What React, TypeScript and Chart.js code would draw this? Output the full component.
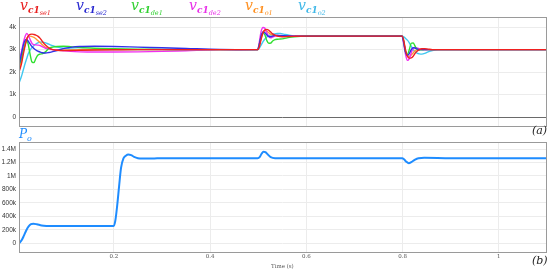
import React, { useEffect, useRef } from "react";
import { Chart, registerables } from "chart.js";
Chart.register(...registerables);

// ---------- data ----------
const tV = [0.003, 0.008, 0.012, 0.016, 0.019, 0.022, 0.026, 0.03, 0.034, 0.038, 0.042, 0.047, 0.052, 0.058, 0.065, 0.073, 0.082, 0.095, 0.11, 0.13, 0.16, 0.2, 0.25, 0.3, 0.35, 0.42, 0.499,
  0.502, 0.506, 0.51, 0.514, 0.518, 0.522, 0.526, 0.53, 0.535, 0.54, 0.546, 0.553, 0.562, 0.575, 0.6, 0.65, 0.799,
  0.802, 0.806, 0.81, 0.814, 0.818, 0.822, 0.826, 0.83, 0.835, 0.84, 0.846, 0.853, 0.862, 0.875, 0.9, 1.098];

const vSe1 = [2000, 2350, 2800, 3200, 3450, 3600, 3680, 3690, 3670, 3640, 3600, 3500, 3350, 3200, 3080, 3000, 2970, 2960, 2960, 2970, 2980, 2990, 3000, 3000, 3000, 3000, 3000,
  3100, 3450, 3750, 3880, 3900, 3860, 3780, 3700, 3640, 3600, 3580, 3570, 3580, 3590, 3600, 3600, 3600,
  3450, 3000, 2700, 2620, 2630, 2700, 2830, 2930, 3000, 3040, 3040, 3020, 3000, 3000, 3000, 3000];
const vSe2 = [2300, 2800, 3200, 3420, 3450, 3380, 3250, 3130, 3050, 2980, 2930, 2890, 2860, 2850, 2870, 2910, 2960, 3040, 3100, 3140, 3150, 3140, 3110, 3080, 3050, 3010, 3000,
  3200, 3600, 3780, 3750, 3650, 3580, 3570, 3600, 3630, 3640, 3630, 3620, 3610, 3600, 3600, 3600, 3600,
  3350, 2900, 2750, 2820, 3000, 3080, 3070, 3030, 3000, 3000, 3000, 3000, 3000, 3000, 3000, 3000];
const vDe1 = [2300, 2600, 2950, 3250, 3400, 3250, 2800, 2450, 2420, 2600, 2750, 2800, 2820, 2900, 3050, 3110, 3140, 3150, 3130, 3090, 3060, 3040, 3020, 3010, 3000, 3000, 3000,
  3200, 3550, 3750, 3650, 3400, 3280, 3290, 3380, 3440, 3460, 3470, 3490, 3530, 3570, 3600, 3600, 3600,
  3400, 2900, 2780, 3000, 3280, 3300, 3150, 3020, 2980, 2990, 3000, 3000, 3000, 3000, 3000, 3000];
const vDe2 = [2460, 2900, 3300, 3600, 3720, 3650, 3450, 3280, 3220, 3210, 3200, 3180, 3120, 3060, 3020, 3000, 2980, 2950, 2920, 2900, 2890, 2890, 2900, 2920, 2950, 2990, 3000,
  3300, 3800, 3980, 3950, 3750, 3580, 3520, 3550, 3600, 3620, 3620, 3610, 3600, 3600, 3600, 3600, 3600,
  3300, 2800, 2520, 2600, 2850, 3050, 3100, 3080, 3030, 3000, 2990, 3000, 3000, 3000, 3000, 3000];
const vO1 = [2100, 2500, 2950, 3300, 3500, 3580, 3600, 3580, 3540, 3480, 3400, 3300, 3200, 3100, 3040, 3000, 2980, 2970, 2980, 2990, 3000, 3000, 3000, 3000, 3000, 3000, 3000,
  3150, 3500, 3780, 3850, 3820, 3750, 3680, 3640, 3610, 3600, 3590, 3590, 3600, 3600, 3600, 3600, 3600,
  3400, 2950, 2720, 2700, 2760, 2850, 2950, 3000, 3020, 3020, 3010, 3000, 3000, 3000, 3000, 3000];
const vO2 = [1500, 1800, 2100, 2400, 2600, 2800, 2980, 3100, 3180, 3250, 3300, 3330, 3330, 3300, 3240, 3170, 3110, 3060, 3030, 3010, 3000, 3000, 3000, 3000, 3000, 3000, 3000,
  3050, 3200, 3350, 3470, 3560, 3620, 3650, 3680, 3700, 3720, 3720, 3690, 3650, 3610, 3600, 3600, 3600,
  3580, 3500, 3420, 3300, 3150, 3000, 2900, 2840, 2810, 2800, 2830, 2900, 2960, 3000, 3000, 3000];

const tP = [0.003, 0.008, 0.013, 0.018, 0.023, 0.028, 0.033, 0.04, 0.05, 0.06, 0.08, 0.1, 0.15, 0.199, 0.203, 0.207, 0.211, 0.215, 0.22, 0.225, 0.23, 0.236, 0.242, 0.25, 0.26, 0.28, 0.3, 0.4, 0.499,
  0.503, 0.507, 0.511, 0.515, 0.52, 0.526, 0.535, 0.6, 0.799, 0.803, 0.808, 0.813, 0.818, 0.825, 0.833, 0.845, 0.9, 1.098];
const vP = [0, 40e3, 110e3, 190e3, 250e3, 283e3, 290e3, 282e3, 265e3, 258e3, 255e3, 255e3, 255e3, 255e3, 330e3, 560e3, 850e3, 1.12e6, 1.26e6, 1.3e6, 1.318e6, 1.31e6, 1.285e6, 1.265e6, 1.26e6, 1.26e6, 1.265e6, 1.265e6, 1.265e6,
  1.28e6, 1.33e6, 1.36e6, 1.355e6, 1.32e6, 1.28e6, 1.265e6, 1.265e6, 1.265e6, 1.25e6, 1.21e6, 1.19e6, 1.205e6, 1.24e6, 1.265e6, 1.27e6, 1.265e6, 1.265e6];

const xTicks = [0.2, 0.4, 0.6, 0.8, 1];
const xTickLabels = ["0.2", "0.4", "0.6", "0.8", "1"];
const vTicks = [0, 1000, 2000, 3000, 4000];
const vTickLabels = ["0", "1k", "2k", "3k", "4k"];
const pTicks = [0, 200e3, 400e3, 600e3, 800e3, 1e6, 1.2e6, 1.4e6];
const pTickLabels = ["0", "200k", "400k", "600k", "800k", "1M", "1.2M", "1.4M"];

const seriesNames = ["se1", "se2", "de1", "de2", "o1", "o2"];
const seriesValues = [vSe1, vSe2, vDe1, vDe2, vO1, vO2];
const seriesColors = ["#f02020", "#3030e8", "#30e030", "#f030f0", "#ff9a30", "#40c8f0"];
const legendColors = ["#e82020", "#2828d0", "#30d030", "#e830e8", "#ff9020", "#40b8e8"];
const legendX = [20, 76, 131, 189, 245, 298];

const boxPlugin = {
  id: "box",
  afterDraw(chart: any) {
    const { ctx, chartArea: a } = chart;
    ctx.save();
    ctx.strokeStyle = "#9a9a9a";
    ctx.lineWidth = 1;
    ctx.strokeRect(Math.round(a.left) + 0.5, Math.round(a.top) + 0.5, Math.round(a.right - a.left), Math.round(a.bottom - a.top));
    ctx.restore();
  },
};

const tickFont = { family: "Liberation Sans", size: 6.5 };

function xScale(showLabels: boolean, h: number) {
  return {
    type: "linear",
    min: 0.003,
    max: 1.098,
    afterBuildTicks: (s: any) => { s.ticks = xTicks.map((v) => ({ value: v })); },
    afterFit: (s: any) => { s.height = h; },
    grid: { color: "#ececec", drawTicks: false },
    border: { display: false },
    ticks: {
      display: showLabels,
      padding: 1,
      font: { family: "DejaVu Serif", size: 5.5 },
      color: "#555",
      callback: (v: any) => { const i = xTicks.indexOf(v); return i >= 0 ? xTickLabels[i] : ""; },
    },
  };
}

function yScale(min: number, max: number, ticks: number[], labels: string[], zeroDark: boolean) {
  return {
    type: "linear",
    min,
    max,
    afterBuildTicks: (s: any) => { s.ticks = ticks.map((v) => ({ value: v })); },
    afterFit: (s: any) => { s.width = 19; },
    grid: {
      drawTicks: false,
      color: (c: any) => (zeroDark && c.tick && c.tick.value === 0 ? "#6a6a6a" : "#ececec"),
    },
    border: { display: false },
    ticks: {
      padding: 3,
      font: tickFont,
      color: "#333",
      callback: (v: any) => { const i = ticks.indexOf(v); return i >= 0 ? labels[i] : ""; },
    },
  };
}

export default function App() {
  const c1 = useRef<HTMLCanvasElement>(null);
  const c2 = useRef<HTMLCanvasElement>(null);

  useEffect(() => {
    const ch1 = new Chart(c1.current!, {
      type: "line",
      data: {
        datasets: seriesValues.map((vals, k) => ({
          label: seriesNames[k],
          data: vals.map((v, i) => ({ x: tV[i], y: v })),
          borderColor: seriesColors[k],
          borderWidth: 1.4,
          pointRadius: 0,
          cubicInterpolationMode: "monotone",
        })),
      },
      options: {
        animation: false,
        responsive: false,
        layout: { padding: { top: 17, bottom: 9, left: 0, right: 4 } },
        plugins: { legend: { display: false }, tooltip: { enabled: false } },
        scales: {
          x: xScale(false, 0),
          y: yScale(-400, 4450, vTicks, vTickLabels, true),
        },
      } as any,
      plugins: [boxPlugin],
    });
    const ch2 = new Chart(c2.current!, {
      type: "line",
      data: {
        datasets: [{
          label: "Po",
          data: vP.map((v, i) => ({ x: tP[i], y: v })),
          borderColor: "#1e8cff",
          borderWidth: 2,
          pointRadius: 0,
          cubicInterpolationMode: "monotone",
        }],
      },
      options: {
        animation: false,
        responsive: false,
        layout: { padding: { top: 7, bottom: 0, left: 0, right: 4 } },
        plugins: { legend: { display: false }, tooltip: { enabled: false } },
        scales: {
          x: xScale(true, 19),
          y: yScale(-130e3, 1.505e6, pTicks, pTickLabels, false),
        },
      } as any,
      plugins: [boxPlugin],
    });
    return () => { ch1.destroy(); ch2.destroy(); };
  }, []);

  const serif = "'DejaVu Serif', 'Liberation Serif', serif";
  return (
    <div style={{ position: "fixed", left: 0, top: 0, width: 550, height: 271, background: "#fff", overflow: "hidden" }}>
      <canvas ref={c1} width={550} height={135} style={{ position: "absolute", left: 0, top: 0, display: "block" }} />
      <canvas ref={c2} width={550} height={136} style={{ position: "absolute", left: 0, top: 135, display: "block" }} />
      {seriesNames.map((n, k) => (
        <div key={n} style={{ position: "absolute", left: legendX[k], top: -3, color: legendColors[k], fontFamily: serif, fontStyle: "italic", fontSize: 14, lineHeight: "16px", whiteSpace: "nowrap" }}>
          v<span style={{ fontSize: 9, fontWeight: "bold", position: "relative", top: 3 }}>c1<span style={{ fontSize: 6.5, fontWeight: "normal", position: "relative", top: 2 }}>{n}</span></span>
        </div>
      ))}
      <div style={{ position: "absolute", left: 19, top: 127, color: "#1e8cff", fontFamily: serif, fontStyle: "italic", fontSize: 12, lineHeight: "14px" }}>
        P<span style={{ fontSize: 8, position: "relative", top: 3 }}>o</span>
      </div>
      <div style={{ position: "absolute", left: 532, top: 124, fontFamily: serif, fontStyle: "italic", fontSize: 11, lineHeight: "13px", color: "#222" }}>(a)</div>
      <div style={{ position: "absolute", left: 532, top: 254, fontFamily: serif, fontStyle: "italic", fontSize: 11, lineHeight: "13px", color: "#222" }}>(b)</div>
      <div style={{ position: "absolute", left: 271, top: 263, fontFamily: serif, fontSize: 5.5, lineHeight: "7px", color: "#555", whiteSpace: "nowrap" }}>Time (s)</div>
    </div>
  );
}
